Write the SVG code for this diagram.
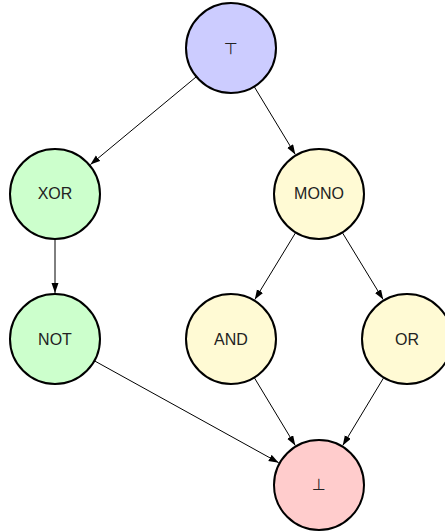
<svg xmlns="http://www.w3.org/2000/svg" width="445" height="531" viewBox="0 0 445 531">
<style>
.n{stroke:#000;stroke-width:2}
.t{font-family:"Liberation Sans","DejaVu Sans",sans-serif;font-size:16px;fill:#222;text-anchor:middle}
.e{stroke:#000;stroke-width:1;fill:none;marker-end:url(#ah)}
</style>
<defs>
<marker id="ah" markerUnits="userSpaceOnUse" markerWidth="10" markerHeight="8" refX="10" refY="3.5" orient="auto">
<path d="M0,0 L10,3.5 L0,7 z" fill="#000"/>
</marker>
</defs>
<rect width="445" height="531" fill="#fff"/>
<g id="edges">
<line class="e" x1="196.4" y1="76.7" x2="90.4" y2="164.6"/>
<line class="e" x1="254.2" y1="86.6" x2="295.3" y2="154.5"/>
<line class="e" x1="55" y1="239" x2="55" y2="293"/>
<line class="e" x1="295.7" y1="232.5" x2="254.8" y2="299.6"/>
<line class="e" x1="342.3" y1="232.5" x2="383.2" y2="299.6"/>
<line class="e" x1="94.4" y1="360.8" x2="278.7" y2="462.7"/>
<line class="e" x1="254.2" y1="377.5" x2="295.3" y2="445.6"/>
<line class="e" x1="383.8" y1="377.5" x2="342.7" y2="445.6"/>
</g>
<g id="top"><circle class="n" cx="231" cy="48" r="45" fill="#ccccff"/><text class="t" x="231" y="54">⊤</text></g>
<g id="xor"><circle class="n" cx="55" cy="194" r="45" fill="#ccffcc"/><text class="t" x="55" y="199">XOR</text></g>
<g id="mono"><circle class="n" cx="319" cy="194" r="45" fill="#fffad4"/><text class="t" x="319" y="199">MONO</text></g>
<g id="not"><circle class="n" cx="55" cy="339" r="45" fill="#ccffcc"/><text class="t" x="55" y="345">NOT</text></g>
<g id="and"><circle class="n" cx="231" cy="339" r="45" fill="#fffad4"/><text class="t" x="231" y="345">AND</text></g>
<g id="or"><circle class="n" cx="407" cy="339" r="45" fill="#fffad4"/><text class="t" x="407" y="345">OR</text></g>
<g id="bottom"><circle class="n" cx="319" cy="485" r="45" fill="#ffcccc"/><text class="t" x="319" y="490">⊥</text></g>
</svg>
